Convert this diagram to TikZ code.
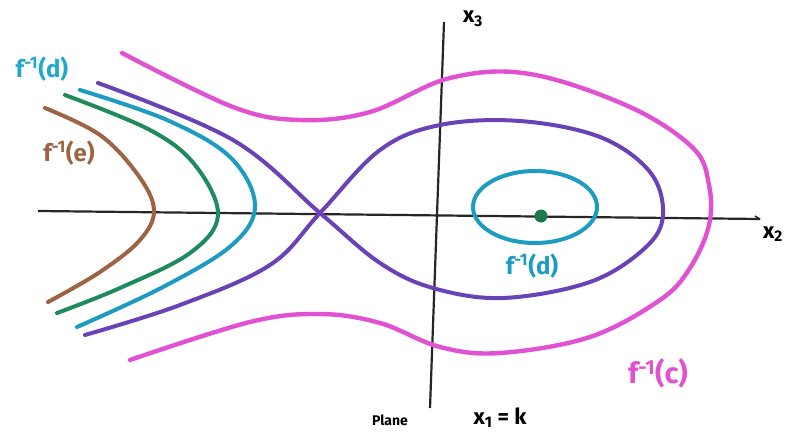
\documentclass[tikz,border=0pt]{standalone}
\usepackage{fontspec}
\setmainfont{Fira Sans}
\begin{document}
\begin{tikzpicture}[x=1pt,y=-1pt,
  curve/.style={line width=4pt,line cap=round,line join=round},
  axisline/.style={line width=2.2pt,black!85},
  lbl/.style={font=\fontsize{24}{26}\selectfont\bfseries,inner sep=0pt}]
\definecolor{cbrown}{HTML}{9C6444}
\definecolor{cgreen}{HTML}{1F8A5C}
\definecolor{ccyan}{HTML}{1C9CC0}
\definecolor{clabel}{HTML}{22A8CC}
\definecolor{cpurple}{HTML}{6A42B8}
\definecolor{cmag}{HTML}{E052D2}
\definecolor{cdot}{HTML}{1E7A4C}
\useasboundingbox (0,0) rectangle (801,434);
\fill[white] (0,0) rectangle (801,434);
% axes
\coordinate (hL) at (38,211);
\coordinate (hR) at (760,219);
\coordinate (vT) at (444,22);
\coordinate (vB) at (430,408);
\draw[axisline] (hL) -- (hR);
\draw[axisline,line width=1.4pt] (hR) -- ++(-5,-3);
\draw[axisline] (vT) -- (vB);
% brown
\draw[curve,cbrown] plot[smooth,tension=0.6] coordinates {(45,108) (100,135) (138,175) (154,210) (140,240) (100,272) (48,302)};
% green
\draw[curve,cgreen] plot[smooth,tension=0.6] coordinates {(65,95) (150,130) (195,165) (218,215) (190,253) (120,288) (57,313)};
% cyan
\draw[curve,ccyan] plot[smooth,tension=0.6] coordinates {(80,90) (167,120) (230,157) (255,205) (232,245) (163,287) (77,327)};
% purple
\draw[curve,cpurple] plot[smooth,tension=0.6] coordinates {(98,83) (233,140) (320,213) (380,263) (433,288) (503,298) (590,282) (645,248) (663,215) (650,172) (600,137) (520,121) (440,125) (380,150) (320,213) (270,265) (180,305) (85,335)};
% magenta
\draw[curve,cmag,line width=4.4pt] plot[smooth,tension=0.6] coordinates {(122,53) (233,107) (300,120) (370,112) (450,78) (530,74) (630,107) (693,148) (709,185) (709,225) (690,268) (660,300) (590,337) (500,353) (440,347) (380,323) (320,314) (250,322) (130,360)};
% small ellipse and dot
\draw[curve,ccyan] (535,207) ellipse [x radius=62, y radius=36];
\fill[cdot] (541,216) circle (6.5);
% labels
\node[lbl,clabel] (ld1) at (42,69) {f\textsuperscript{-1}(d)};
\node[lbl,cbrown] (le) at (69,153) {f\textsuperscript{-1}(e)};
\node[lbl,ccyan] (ld2) at (532,266) {f\textsuperscript{-1}(d)};
\node[lbl,cmag,font=\fontsize{29}{31}\selectfont\bfseries] (lc) at (658,373) {f\textsuperscript{-1}(c)};
\node[lbl,black,font=\fontsize{22}{24}\selectfont\bfseries] (lx3) at (473,19) {x\textsubscript{3}};
\node[lbl,black,font=\fontsize{22}{24}\selectfont\bfseries] (lx2) at (773,234) {x\textsubscript{2}};
\node[lbl,black,font=\fontsize{14}{16}\selectfont\bfseries] (lplane) at (390,420) {Plane};
\node[lbl,black,font=\fontsize{22}{24}\selectfont\bfseries] (lx1) at (500,418) {x\textsubscript{1} = k};
\end{tikzpicture}
\end{document}
